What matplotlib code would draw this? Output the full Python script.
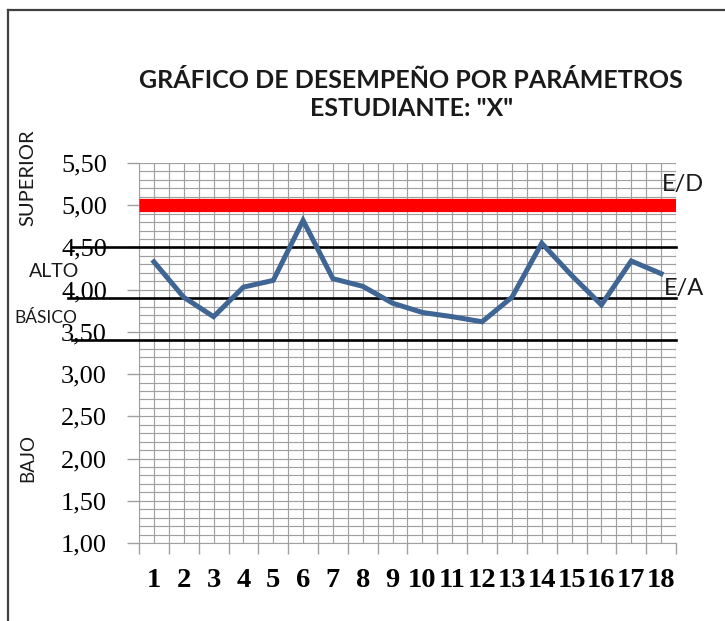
import matplotlib
matplotlib.use("Agg")
import matplotlib.pyplot as plt
from matplotlib.ticker import MultipleLocator, FixedLocator
from matplotlib.lines import Line2D

# ---- data ----
categories = list(range(1, 19))
scores = [4.33, 3.91, 3.68, 4.03, 4.11, 4.82, 4.13, 4.04, 3.84, 3.73,
          3.68, 3.62, 3.91, 4.55, 4.17, 3.82, 4.34, 4.19]
target_level = 5.0                 # red line E/D
band_levels = [4.5, 3.9, 3.4]      # black limit lines
ytick_values = [1.0, 1.5, 2.0, 2.5, 3.0, 3.5, 4.0, 4.5, 5.0, 5.5]
ytick_labels = ["1,00", "1,50", "2,00", "2,50", "3,00", "3,50",
                "4,00", "4,50", "5,00", "5,50"]
title_lines = ["GRÁFICO DE DESEMPEÑO POR PARÁMETROS", 'ESTUDIANTE: "X"']

W, H = 725, 621
fig = plt.figure(figsize=(W / 100, H / 100), dpi=100)
fig.patch.set_facecolor("white")

def fx(px):
    return px / W

def fy(py):
    return 1 - py / H

ax = fig.add_axes([fx(139), fy(543), (676 - 139) / W, (543 - 163) / H])

grid_c = "#A0A0A0"
ax.set_xlim(0.5, 18.5)
ax.set_ylim(1.0, 5.5)

# x ticks: labels at centres, tick marks at boundaries
ax.xaxis.set_major_locator(FixedLocator(categories))
ax.set_xticklabels([str(c) for c in categories], family="Liberation Serif",
                   fontweight="bold", fontsize=20.5)
ax.xaxis.set_minor_locator(MultipleLocator(0.5))
ax.tick_params(axis="x", which="major", length=0, pad=18)
ax.tick_params(axis="x", which="minor", length=8, color=grid_c, width=1)

ax.set_yticks(ytick_values)
ax.set_yticklabels(ytick_labels, family="Liberation Serif", fontsize=19)
ax.yaxis.set_minor_locator(MultipleLocator(0.1))
ax.tick_params(axis="y", which="major", length=9, color=grid_c, width=1, pad=14)
ax.tick_params(axis="y", which="minor", length=0)

ax.grid(True, which="both", color=grid_c, linewidth=0.85)
ax.set_axisbelow(True)
for s in ax.spines.values():
    s.set_visible(False)
ax.spines["left"].set_visible(True)
ax.spines["bottom"].set_visible(True)
ax.spines["left"].set_color(grid_c)
ax.spines["bottom"].set_color(grid_c)

# red target line
ax.axhline(target_level, color="#FF0000", linewidth=9.5, solid_capstyle="butt", zorder=3)

# black limit lines (extend left of the axes)
starts = [72, 68, 72]
for lvl, st in zip(band_levels, starts):
    ax.axhline(lvl, xmin=(st - 139) / 537, xmax=1.0, color="black",
               linewidth=1.9, clip_on=False, zorder=4)

# data line
ax.plot(categories, scores, color="#3F6595", linewidth=3.6,
        solid_joinstyle="miter", zorder=5)

# titles
tfont = dict(family="Lato", fontweight="bold", fontsize=18, color="#1a1a1a")
fig.text(fx(411), fy(80), title_lines[0], ha="center", va="center", **tfont)
fig.text(fx(412), fy(108), title_lines[1], ha="center", va="center", **tfont)

# side annotations
lfont = dict(family="Lato", color="#1a1a1a")
fig.text(fx(28), fy(178), "SUPERIOR", rotation=90, ha="center", va="center",
         fontsize=14.5, **lfont)
fig.text(fx(54), fy(272), "ALTO", ha="center", va="center", fontsize=14, **lfont)
fig.text(fx(46), fy(318), "BÁSICO", ha="center", va="center", fontsize=12.5, **lfont)
fig.text(fx(28), fy(458), "BAJO", rotation=90, ha="center", va="center",
         fontsize=13.5, **lfont)
fig.text(fx(683), fy(184), "E/D", ha="center", va="center", fontsize=17, **lfont)
fig.text(fx(684), fy(288), "E/A", ha="center", va="center", fontsize=17, **lfont)

# outer frame
fig.add_artist(Line2D([fx(8), 1.0], [fy(10), fy(10)], transform=fig.transFigure,
                      color="#404040", linewidth=1.6))
fig.add_artist(Line2D([fx(8), fx(8)], [fy(10), 0.0], transform=fig.transFigure,
                      color="#404040", linewidth=1.6))

fig.savefig("out.png", dpi=100, facecolor="white")
